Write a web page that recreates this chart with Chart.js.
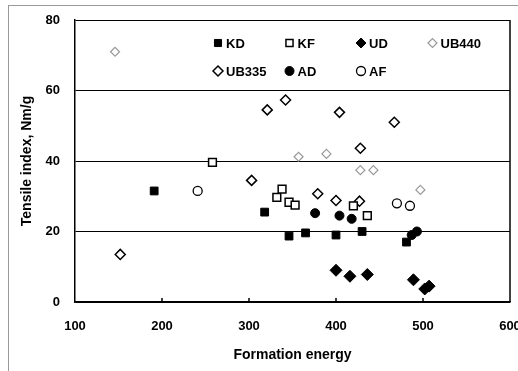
<!DOCTYPE html>
<html>
<head>
<meta charset="utf-8">
<script src="https://cdn.jsdelivr.net/npm/chart.js@4"></script>
<style>
    html, body { margin: 0; padding: 0; background: #fff; overflow: hidden; }
    #wrap { position: relative; width: 518px; height: 371px; }
    #frame { position: absolute; left: 8px; top: 5px; width: 520px; height: 380px;
             border-left: 1px solid #999; border-top: 1px solid #999; }
    canvas { position: absolute; left: 0; top: 0; }
</style>
</head>
<body>
<div id="wrap">
    <div id="frame"></div>
    <canvas id="chart" width="518" height="371"></canvas>
</div>
<script>
// Datos (energía de formación vs índice de tensión)
const kdX = [191, 318, 346, 365, 400, 430, 481];
const kdY = [31.5, 25.5, 18.7, 19.6, 19, 20, 17];
const kfX = [258, 332, 338, 346, 353, 420, 436];
const kfY = [39.6, 29.7, 32, 28.3, 27.5, 27.3, 24.5];
const udX = [400, 416, 436, 489, 502, 507];
const udY = [9, 7.3, 7.8, 6.3, 3.7, 4.5];
const ub440X = [146, 357, 389, 428, 443, 497];
const ub440Y = [71, 41.2, 42, 37.4, 37.4, 31.8];
const ub335X = [152, 303, 321, 342, 379, 400, 404, 427, 428, 467];
const ub335Y = [13.5, 34.5, 54.5, 57.3, 30.7, 28.8, 53.8, 28.6, 43.6, 51];
const adX = [376, 404, 418, 487, 493];
const adY = [25.2, 24.5, 23.6, 19, 20];
const afX = [241, 470, 485];
const afY = [31.5, 28, 27.3];

const xTicks = [100, 200, 300, 400, 500, 600];
const yTicks = [0, 20, 40, 60, 80];

const FONT = '"Liberation Sans", Arial, sans-serif';

// Convierte dos arreglos en puntos {x, y}
const pts = (xs, ys) => xs.map((x, i) => ({ x: x, y: ys[i] }));

const makeSet = (label, xs, ys, style, fill, border, radius, bw) => ({
    label: label,
    data: pts(xs, ys),
    pointStyle: style,
    backgroundColor: fill,
    borderColor: border,
    pointRadius: radius,
    pointHoverRadius: radius,
    borderWidth: bw
});

// Leyenda en cuadrícula (4 columnas) dentro del área del gráfico
const legendGrid = {
    id: 'legendGrid',
    afterDraw(chart) {
        const { ctx, chartArea } = chart;
        ctx.save();
        ctx.font = 'bold 13px ' + FONT;
        ctx.textBaseline = 'middle';
        chart.data.datasets.forEach((ds, i) => {
            const col = i % 4;
            const row = Math.floor(i / 4);
            const x = chartArea.left + 143 + col * 71.5;
            const y = chartArea.top + 23 + row * 28;
            ctx.save();
            ctx.fillStyle = ds.backgroundColor;
            ctx.strokeStyle = ds.borderColor;
            ctx.lineWidth = ds.borderWidth;
            if (Chart.helpers && Chart.helpers.drawPoint) {
                Chart.helpers.drawPoint(ctx, {
                    pointStyle: ds.pointStyle,
                    radius: Math.min(ds.pointRadius, 5),
                    borderWidth: ds.borderWidth,
                    rotation: 0
                }, x, y);
            }
            ctx.restore();
            ctx.fillStyle = '#000';
            ctx.fillText(ds.label, x + 8, y + 1);
        });
        ctx.restore();
    }
};

// Borde derecho y marcas del eje x hacia adentro
const frameTicks = {
    id: 'frameTicks',
    afterDraw(chart) {
        const { ctx, chartArea, scales } = chart;
        ctx.save();
        ctx.strokeStyle = '#000';
        ctx.lineWidth = 1.5;
        ctx.beginPath();
        ctx.moveTo(chartArea.right, chartArea.top);
        ctx.lineTo(chartArea.right, chartArea.bottom);
        ctx.stroke();
        ctx.lineWidth = 1.5;
        xTicks.slice(1, -1).forEach(v => {
            const px = scales.x.getPixelForValue(v);
            ctx.beginPath();
            ctx.moveTo(px, chartArea.bottom);
            ctx.lineTo(px, chartArea.bottom - 4);
            ctx.stroke();
        });
        ctx.restore();
    }
};

new Chart(document.getElementById('chart').getContext('2d'), {
    type: 'scatter',
    data: {
        datasets: [
            makeSet('KD', kdX, kdY, 'rect', '#000', '#000', 5.5, 1),
            makeSet('KF', kfX, kfY, 'rect', '#fff', '#000', 5.5, 1.5),
            makeSet('UD', udX, udY, 'rectRot', '#000', '#000', 6, 1),
            makeSet('UB440', ub440X, ub440Y, 'rectRot', 'rgba(255,255,255,0.6)', '#9a9a9a', 4.5, 1.2),
            makeSet('UB335', ub335X, ub335Y, 'rectRot', '#fff', '#000', 5, 1.5),
            makeSet('AD', adX, adY, 'circle', '#000', '#000', 4.5, 1),
            makeSet('AF', afX, afY, 'circle', '#fff', '#000', 4.5, 1.3)
        ]
    },
    options: {
        responsive: false,
        animation: false,
        devicePixelRatio: 1,
        layout: { padding: { left: 0, top: 20, right: 8, bottom: 0 } },
        plugins: {
            legend: { display: false },
            tooltip: { enabled: false }
        },
        scales: {
            x: {
                type: 'linear',
                min: 100,
                max: 600,
                afterBuildTicks: s => { s.ticks = xTicks.map(v => ({ value: v })); },
                afterFit: s => { s.height = 69; s.paddingRight = 0; s.paddingLeft = 0; },
                grid: { display: false, drawTicks: false },
                border: { display: true, color: '#000', width: 1.5 },
                ticks: {
                    color: '#000',
                    padding: 17,
                    maxRotation: 0,
                    font: { family: FONT, size: 13, weight: 'bold' }
                },
                title: {
                    display: true,
                    text: 'Formation energy',
                    color: '#000',
                    padding: { top: 0, bottom: 7.5 },
                    font: { family: FONT, size: 14, weight: 'bold' }
                }
            },
            y: {
                min: 0,
                max: 80,
                afterBuildTicks: s => { s.ticks = yTicks.map(v => ({ value: v })); },
                afterFit: s => { s.width = 75; s.paddingTop = 0; s.paddingBottom = 0; },
                grid: { color: '#000', lineWidth: 1, drawTicks: false },
                border: { display: true, color: '#000', width: 1.5 },
                ticks: {
                    color: '#000',
                    padding: 15,
                    font: { family: FONT, size: 13, weight: 'bold' }
                },
                title: {
                    display: true,
                    text: 'Tensile index, Nm/g',
                    color: '#000',
                    padding: { top: 18.6, bottom: 0 },
                    font: { family: FONT, size: 14, weight: 'bold' }
                }
            }
        }
    },
    plugins: [legendGrid, frameTicks]
});
</script>
</body>
</html>
